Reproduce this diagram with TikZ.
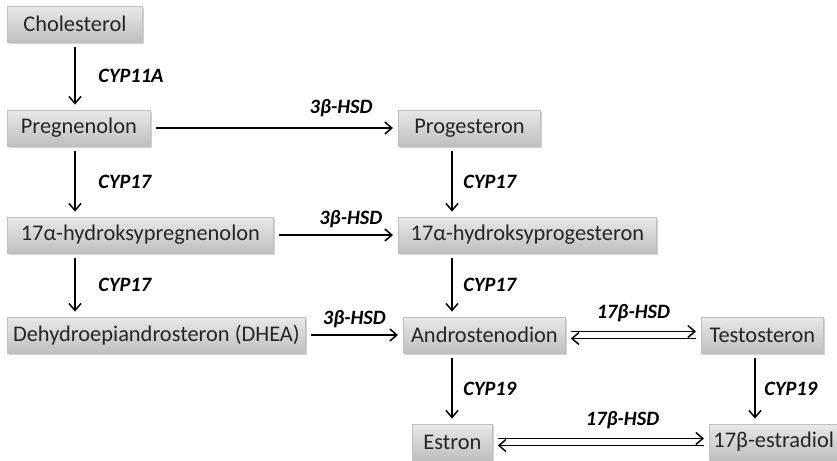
\documentclass[tikz,border=0pt]{standalone}
\usepackage{fontspec}
\setmainfont{Carlito}
\usetikzlibrary{arrows.meta, positioning, shadows}
\tikzstyle{compound} = [rectangle, anchor=west, minimum height=18pt, inner xsep=2pt, text centered, text=black!85, draw=gray!50, top color=gray!18, bottom color=gray!50, drop shadow={opacity=0.35, shadow xshift=1pt, shadow yshift=-1.2pt}, font=\fontsize{11.2}{13}\selectfont]
\tikzstyle{enzyme} = [font=\fontsize{10.2}{12}\selectfont\bfseries\itshape]
\tikzstyle{arrow} = [line width=0.75pt, shorten <=2.5pt, shorten >=2.5pt, -{Straight Barb[length=3.5pt,width=6pt]}]

\begin{document}
\begin{tikzpicture}[x=0.5pt, y=-0.5pt]
\useasboundingbox (0,0) rectangle (837,461);

\node (chol) [compound, minimum width=67.5pt] at (7,24) {Cholesterol};
\node (preg) [compound, minimum width=71.5pt] at (7,128) {Pregnenolon};
\node (prog) [compound, minimum width=71pt] at (398,128) {Progesteron};
\node (ohpreg) [compound, minimum width=133pt] at (7,235) {17α-hydroksypregnenolon};
\node (ohprog) [compound, minimum width=129pt] at (398,235) {17α-hydroksyprogesteron};
\node (dhea) [compound, minimum width=149pt] at (7,335) {Dehydroepiandrosteron (DHEA)};
\node (andro) [compound, minimum width=81pt] at (403,335) {Androstenodion};
\node (testo) [compound, minimum width=61pt] at (701,335) {Testosteron};
\node (estron) [compound, minimum width=40pt] at (412,442) {Estron};
\node (estra) [compound, minimum width=62pt] at (709,442) {17β-estradiol};

% columns of the vertical arrows
\coordinate (colL) at (75,0);
\coordinate (colM) at (452,0);
\coordinate (colR) at (755,0);

\draw [arrow] (chol.south -| colL) -- node[enzyme, right=8pt] {CYP11A} (preg.north -| colL);
\draw [arrow] (preg.south -| colL) -- node[enzyme, right=8pt] {CYP17} (ohpreg.north -| colL);
\draw [arrow] (ohpreg.south -| colL) -- node[enzyme, right=8pt] {CYP17} (dhea.north -| colL);
\draw [arrow] (prog.south -| colM) -- node[enzyme, right=2pt] {CYP17} (ohprog.north -| colM);
\draw [arrow] (ohprog.south -| colM) -- node[enzyme, right=2pt] {CYP17} (andro.north -| colM);
\draw [arrow] (andro.south -| colM) -- node[enzyme, right=2pt] {CYP19} (estron.north -| colM);
\draw [arrow] (testo.south -| colR) -- node[enzyme, right=1pt] {CYP19} (estra.north -| colR);

\draw [arrow] (preg) -- node[enzyme, above=2pt, pos=0.77] {3β-HSD} (prog);
\draw [arrow] (ohpreg) -- node[enzyme, above, pos=0.62] {3β-HSD} (ohprog);
\draw [arrow] (dhea) -- node[enzyme, above] {3β-HSD} (andro);

% reversible steps
\draw [arrow] ([yshift=1.75pt]andro.east) -- node[enzyme, above=1pt] {17β-HSD} ([yshift=1.75pt]testo.west);
\draw [arrow] ([yshift=-1.75pt]testo.west) -- ([yshift=-1.75pt]andro.east);
\draw [arrow] ([yshift=1.75pt]estron.east) -- node[enzyme, above=1pt, pos=0.6] {17β-HSD} ([yshift=1.75pt]estra.west);
\draw [arrow] ([yshift=-1.75pt]estra.west) -- ([yshift=-1.75pt]estron.east);

\end{tikzpicture}
\end{document}
